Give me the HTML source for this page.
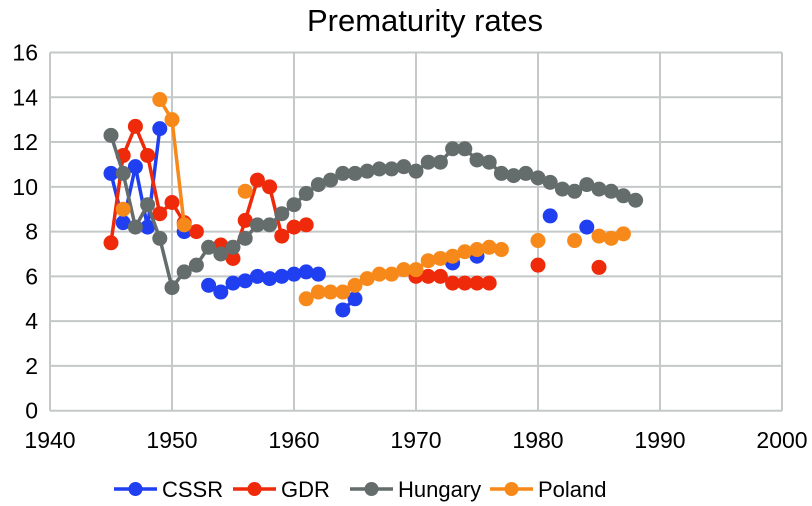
<!DOCTYPE html>
<html><head><meta charset="utf-8"><style>
html,body{margin:0;padding:0;background:#fff;}
svg{display:block;font-family:"Liberation Sans",sans-serif;}
</style></head><body>
<svg id="chart" width="812" height="506">
<text x="425" y="31" text-anchor="middle" font-size="31" fill="#000">Prematurity rates</text>
<g id="grid"></g><g id="axes"></g><g id="series"></g><g id="legend"></g>
</svg>
<script>
const years = [];
for (let y = 1945; y <= 1988; y++) years.push(y);
const cssr = {1945:10.6,1946:8.4,1947:10.9,1948:8.2,1949:12.6,1951:8.0,1953:5.6,1954:5.3,1955:5.7,1956:5.8,1957:6.0,1958:5.9,1959:6.0,1960:6.1,1961:6.2,1962:6.1,1964:4.5,1965:5.0,1973:6.6,1975:6.9,1981:8.7,1984:8.2};
const gdr = {1945:7.5,1946:11.4,1947:12.7,1948:11.4,1949:8.8,1950:9.3,1951:8.4,1952:8.0,1954:7.4,1955:6.8,1956:8.5,1957:10.3,1958:10.0,1959:7.8,1960:8.2,1961:8.3,1970:6.0,1971:6.0,1972:6.0,1973:5.7,1974:5.7,1975:5.7,1976:5.7,1980:6.5,1985:6.4};
const hungary = {1945:12.3,1946:10.6,1947:8.2,1948:9.2,1949:7.7,1950:5.5,1951:6.2,1952:6.5,1953:7.3,1954:7.0,1955:7.3,1956:7.7,1957:8.3,1958:8.3,1959:8.8,1960:9.2,1961:9.7,1962:10.1,1963:10.3,1964:10.6,1965:10.6,1966:10.7,1967:10.8,1968:10.8,1969:10.9,1970:10.7,1971:11.1,1972:11.1,1973:11.7,1974:11.7,1975:11.2,1976:11.1,1977:10.6,1978:10.5,1979:10.6,1980:10.4,1981:10.2,1982:9.9,1983:9.8,1984:10.1,1985:9.9,1986:9.8,1987:9.6,1988:9.4};
const poland = {1946:9.0,1949:13.9,1950:13.0,1951:8.3,1956:9.8,1961:5.0,1962:5.3,1963:5.3,1964:5.3,1965:5.6,1966:5.9,1967:6.1,1968:6.1,1969:6.3,1970:6.3,1971:6.7,1972:6.8,1973:6.9,1974:7.1,1975:7.2,1976:7.3,1977:7.2,1980:7.6,1983:7.6,1985:7.8,1986:7.7,1987:7.9};
const xTicks = [1940,1950,1960,1970,1980,1990,2000];
const yTicks = [0,2,4,6,8,10,12,14,16];
const seriesNames = ["CSSR","GDR","Hungary","Poland"];
const seriesColors = ["#1f3ff0","#ee2a0a","#646c6c","#f7891a"];

const NS = "http://www.w3.org/2000/svg";
const X0 = 50, X1 = 782, Y0 = 410.7, Y1 = 52.5;
const xs = v => X0 + (v - 1940) / 60 * (X1 - X0);
const ys = v => Y0 - v / 16 * (Y0 - Y1);
function mk(tag, attrs, parent) { const e = document.createElementNS(NS, tag); for (const k in attrs) e.setAttribute(k, attrs[k]); parent.appendChild(e); return e; }
const grid = document.getElementById('grid'), axes = document.getElementById('axes');
yTicks.forEach(t => {
  const l = mk('line', {x1:X0, x2:X1, y1:ys(t), y2:ys(t), stroke:'#c4c8c8', 'stroke-width':2}, grid);
  
  
  const tx = mk('text', {x:38, y:ys(t)+8, 'text-anchor':'end', 'font-size':23}, axes);
  tx.textContent = t;
  
  
});
xTicks.forEach(t => {
  const l = mk('line', {x1:xs(t), x2:xs(t), y1:Y1, y2:Y0, stroke:'#c4c8c8', 'stroke-width':2}, grid);
  
  
  const tx = mk('text', {x:xs(t), y:448, 'text-anchor':'middle', 'font-size':23}, axes);
  tx.textContent = t;
  
  
});
const sg = document.getElementById('series');
[cssr, gdr, hungary, poland].forEach((data, i) => {
  const g = mk('g', {}, sg);
  
  
  const col = seriesColors[i];
  let seg = [];
  const flush = () => { if (seg.length > 1) { const p = mk('polyline', {points: seg.join(' '), fill:'none', stroke:col, 'stroke-width':3.5, 'stroke-linejoin':'round'}, g);   } seg = []; };
  years.forEach(y => { if (data[y] !== undefined) seg.push(xs(y) + ',' + ys(data[y])); else flush(); });
  flush();
  years.forEach(y => { if (data[y] !== undefined) {
    const c = mk('circle', {cx:xs(y), cy:ys(data[y]), r:7.5, fill:col}, g);
    
    
  }});
});
const lg = document.getElementById('legend');
const lx = [114, 233, 350, 490];
seriesNames.forEach((n, i) => {
  const g = mk('g', {}, lg);
  
  
  mk('line', {x1:lx[i], x2:lx[i]+43, y1:489, y2:489, stroke:seriesColors[i], 'stroke-width':3.5}, g);
  mk('circle', {cx:lx[i]+21.5, cy:489, r:7, fill:seriesColors[i]}, g);
  const t = mk('text', {x:lx[i]+48, y:497, 'font-size':22}, g);
  t.textContent = n;
});
</script>
</body></html>
